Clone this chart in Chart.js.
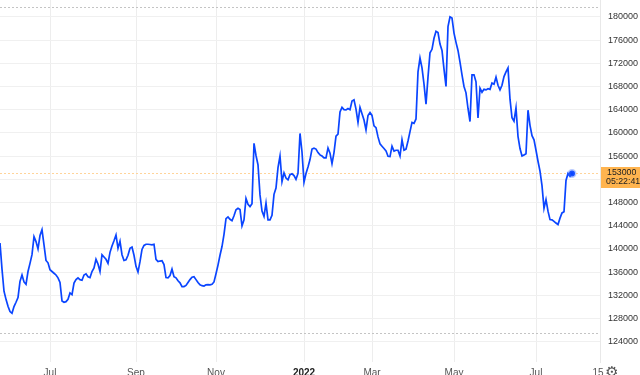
<!DOCTYPE html>
<html>
<head>
<meta charset="utf-8">
<script src="https://cdn.jsdelivr.net/npm/chart.js@4.4.1/dist/chart.umd.min.js"></script>
<style>
  html, body { margin: 0; padding: 0; background: #fff; overflow: hidden; }
  #wrap { width: 640px; height: 375px; overflow: hidden; }
</style>
</head>
<body>
<div id="wrap"><canvas id="priceChart" width="640" height="382"></canvas></div>
<script>
// daily closes, one per trading day
const prices = [
    141000, 136500, 132700, 131300, 130100, 129200, 128900, 130050, 130800, 131600,
    134400, 135500, 134300, 133900, 136100, 137500, 139000, 142100, 141250, 140000,
    142300, 143300, 140700, 138000, 137600, 136400, 136100, 135800, 135500, 135000,
    134200, 131000, 130800, 130900, 131300, 132400, 132100, 134100, 134700, 135000,
    134700, 134600, 135500, 135700, 135200, 135050, 136100, 136700, 138200, 137400,
    136100, 139000, 138600, 138200, 137500, 139400, 140500, 141400, 142400, 140100,
    141300, 139000, 138000, 138100, 138900, 140100, 140300, 138900, 137000, 136000,
    137800, 139900, 140600, 140800, 140800, 140750, 140700, 140800, 138200, 137800,
    137900, 137950, 137300, 135050, 135000, 135400, 136500, 135200, 135000, 134500,
    134150, 133500, 133500, 133700, 134200, 134700, 135100, 135200, 134700, 134200,
    133800, 133650, 133600, 133800, 133850, 133800, 133900, 134300, 135700, 137200,
    138900, 140400, 142500, 145200, 145500, 145100, 144850, 145700, 146750, 147000,
    146800, 143950, 145000, 148700, 147700, 147300, 147800, 158200, 156100, 154500,
    149300, 146500, 145600, 147900, 145000, 145000, 145800, 149400, 150500, 154000,
    156000, 151600, 153100, 152200, 151900, 152800, 152950, 152650, 152000, 153000,
    159900, 156700, 151500, 153000, 154100, 155400, 157200, 157350, 157200, 156600,
    156200, 156000, 155700, 155700, 157400, 156500, 154700, 156600, 159450, 159800,
    163600, 164400, 164000, 163950, 164200, 164000, 165500, 165700, 164100, 161800,
    164400, 163300, 162200, 160500, 163000, 163500, 163000, 161200, 160900, 159300,
    158100, 157700, 157300, 156900, 155950, 155900, 157700, 156850, 157000, 157000,
    156000, 158800, 157000, 157200, 158600, 160200, 161800, 161650, 162400, 170500,
    172900, 171200, 168400, 164950, 169600, 173800, 174400, 176300, 177500, 177300,
    175300, 174200, 171000, 168000, 178300, 180000, 179800, 177200, 175600, 174200,
    172200, 170000, 168000, 166900, 164200, 161950, 170000, 170000, 168800, 162550,
    167700, 167000, 167500, 167400, 167600, 167500, 168600, 168400, 169600, 168200,
    167400, 168200, 169700, 170500, 171200, 165800, 162600, 162000, 164300, 159400,
    157300, 156000, 156200, 156400, 163900, 161300, 159500, 158800, 157000, 155100,
    153400, 150900, 147000, 148500, 146500, 145050, 145000, 144750, 144450, 144200,
    145300, 146200, 146400, 151800, 153000, 152500, 153000
];

// x axis: trading-day index of each label
const xTickDays = [25, 68, 108, 152, 186, 227, 268, 299];
const xTickLabels = ['Jul', 'Sep', 'Nov', '2022', 'Mar', 'May', 'Jul', '15'];

const yTickValues = [124000, 128000, 132000, 136000, 140000, 144000, 148000,
    152000, 156000, 160000, 164000, 168000, 172000, 176000, 180000];

// dotted range markers at top and bottom
const edgeLevels = [181700, 125500];
const lastTime = '05:22:41';

const lineColor = '#0a45ff';
const days = prices.map((p, i) => i);
const lastIdx = prices.length - 1;

function noPadding(scale) {
    scale.paddingTop = 0;
    scale.paddingBottom = 0;
    scale.paddingLeft = 0;
    scale.paddingRight = 0;
}

const overlayPlugin = {
    id: 'overlay',
    beforeDatasetsDraw(chart) {
        const ctx = chart.ctx;
        const area = chart.chartArea;
        const y = chart.scales.y;
        ctx.save();
        ctx.lineWidth = 1;
        ctx.setLineDash([2, 2]);
        ctx.strokeStyle = '#c4c4c4';
        edgeLevels.forEach(level => {
            const py = Math.round(y.getPixelForValue(level)) + 0.5;
            ctx.beginPath();
            ctx.moveTo(area.left, py);
            ctx.lineTo(area.right, py);
            ctx.stroke();
        });
        // last price line
        const lp = Math.round(y.getPixelForValue(prices[lastIdx])) + 0.5;
        ctx.strokeStyle = '#ffd49a';
        ctx.beginPath();
        ctx.moveTo(area.left, lp);
        ctx.lineTo(area.right, lp);
        ctx.stroke();
        ctx.restore();
    },
    afterDraw(chart) {
        const ctx = chart.ctx;
        const area = chart.chartArea;
        const y = chart.scales.y;
        const lp = Math.round(y.getPixelForValue(prices[lastIdx]));
        ctx.save();
        ctx.fillStyle = '#ffb44f';
        ctx.fillRect(area.right + 1, lp - 6, chart.width - area.right - 1, 21);
        ctx.fillStyle = '#222';
        ctx.font = '8.8px "Liberation Sans", Arial, sans-serif';
        ctx.textAlign = 'left';
        ctx.textBaseline = 'middle';
        ctx.fillText(String(prices[lastIdx]), area.right + 7, lp);
        ctx.fillText(lastTime, area.right + 6, lp + 9);
        // settings icon
        ctx.fillStyle = '#555';
        ctx.font = '15px "DejaVu Sans", sans-serif';
        ctx.textAlign = 'center';
        ctx.fillText('\u2699', 612, 373);
        ctx.restore();
    }
};

document.addEventListener('DOMContentLoaded', function() {
    const canvas = document.getElementById('priceChart');

    new Chart(canvas, {
        type: 'line',
        data: {
            labels: days,
            datasets: [{
                data: prices,
                borderColor: lineColor,
                borderWidth: 1.7,
                tension: 0,
                fill: false,
                pointRadius: ctx => ctx.dataIndex === lastIdx ? 3 : 0,
                pointBackgroundColor: lineColor,
                pointBorderColor: 'rgba(60, 110, 255, 0.35)',
                pointBorderWidth: 3,
                pointHoverRadius: 0
            }]
        },
        options: {
            responsive: false,
            animation: false,
            events: [],
            layout: { padding: 0, autoPadding: false },
            plugins: {
                legend: { display: false },
                tooltip: { enabled: false }
            },
            scales: {
                x: {
                    type: 'linear',
                    min: 0,
                    max: 300,
                    afterBuildTicks: scale => {
                        scale.ticks = xTickDays.map(d => ({ value: d }));
                    },
                    afterFit: scale => {
                        scale.height = 20;
                        noPadding(scale);
                    },
                    grid: {
                        color: ctx => ctx.index === xTickDays.length - 1 ? 'rgba(0,0,0,0)' : '#ededed',
                        drawTicks: false
                    },
                    border: { display: false },
                    ticks: {
                        autoSkip: false,
                        maxRotation: 0,
                        padding: 5,
                        color: ctx => ctx.index === 3 ? '#222' : '#555',
                        font: ctx => ({
                            family: '"Liberation Sans", Arial, sans-serif',
                            size: 10,
                            weight: ctx.index === 3 ? 'bold' : 'normal'
                        }),
                        callback: (value, index) => xTickLabels[index]
                    }
                },
                y: {
                    position: 'right',
                    min: 120500,
                    max: 182900,
                    afterBuildTicks: scale => {
                        scale.ticks = yTickValues.map(v => ({ value: v }));
                    },
                    afterFit: scale => {
                        scale.width = 40;
                        noPadding(scale);
                    },
                    grid: {
                        color: '#f0f0f0',
                        drawTicks: false
                    },
                    border: { display: true, color: '#e8e8e8' },
                    ticks: {
                        padding: 8,
                        color: '#333',
                        font: { family: '"Liberation Sans", Arial, sans-serif', size: 9 },
                        callback: value => String(value)
                    }
                }
            }
        },
        plugins: [overlayPlugin]
    });
});
</script>
</body>
</html>
